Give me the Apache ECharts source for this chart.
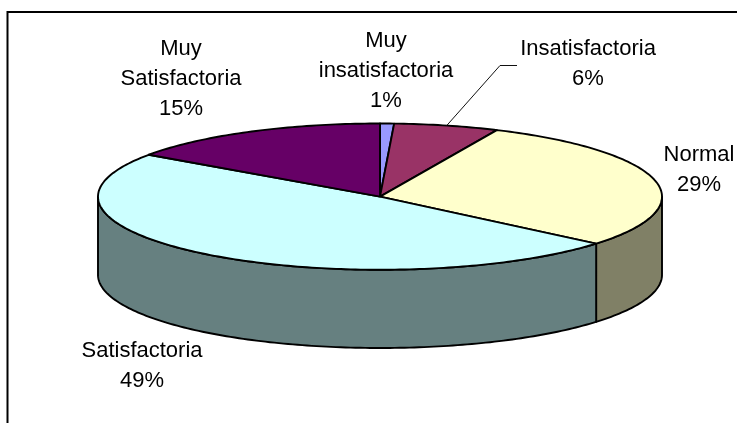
<!DOCTYPE html>
<html>
<head>
<meta charset="utf-8">
<style>html,body{margin:0;padding:0;background:#fff}#c{width:737px;height:423px}</style>
<script src="https://cdn.jsdelivr.net/npm/echarts@6/dist/echarts.min.js"></script>
</head>
<body>
<div id="c"></div>
<script>
// Data
var categories = ['Muy\ninsatisfactoria', 'Insatisfactoria', 'Normal', 'Satisfactoria', 'Muy\nSatisfactoria'];
var values = [0.8, 6.0, 29.3, 48.6, 15.3];

// Appearance
var topColors = ['#9999FF', '#993366', '#FFFFCC', '#CCFFFF', '#660066'];
var sideColors = ['#4D4D80', '#4D1A33', '#808066', '#668080', '#330033'];
var labelSpots = [[386, 71], [588, 64], [699, 170], [142, 366], [181, 79]];
var leaderBend = [[500, 65.5], [517, 65.5]];
var FONT = '"Liberation Sans", Arial, sans-serif';
var DEPTH = 1.07;            // wall height in y-axis units (radius = 1)

var total = values.reduce(function (a, b) { return a + b; }, 0);
var starts = [];
values.reduce(function (acc, v, i) { starts[i] = acc; return acc + v; }, 0);

function rim(deg, drop) { return [Math.sin(deg * Math.PI / 180), Math.cos(deg * Math.PI / 180) - (drop || 0)]; }

function renderSlice(params, api) {
  var i = api.value(0);
  var a0 = starts[i] / total * 360, a1 = (starts[i] + values[i]) / total * 360;
  var children = [];
  var pt = function (d) { return api.coord(d); };
  var edge = { stroke: '#000', lineWidth: 1.9, lineJoin: 'round' };

  // front wall: only the part of the rim between 90 and 270 degrees
  var w0 = Math.max(a0, 90), w1 = Math.min(a1, 270);
  if (w1 > w0) {
    var wall = [], d;
    for (d = w0; d < w1; d += 1) wall.push(pt(rim(d)));
    wall.push(pt(rim(w1)));
    wall.push(pt(rim(w1, DEPTH)));
    for (d = w1; d > w0; d -= 1) wall.push(pt(rim(d, DEPTH)));
    wall.push(pt(rim(w0, DEPTH)));
    children.push({ type: 'polygon', z2: 1, shape: { points: wall },
      style: Object.assign({ fill: sideColors[i] }, edge) });
  }

  // top face
  var face = [pt([0, 0])], t;
  for (t = a0; t < a1; t += 1) face.push(pt(rim(t)));
  face.push(pt(rim(a1)));
  children.push({ type: 'polygon', z2: 2, shape: { points: face },
    style: Object.assign({ fill: topColors[i] }, edge) });

  // label
  children.push({ type: 'text', z2: 5, style: {
    x: labelSpots[i][0], y: labelSpots[i][1],
    text: categories[i] + '\n' + Math.round(values[i]) + '%',
    align: 'center', verticalAlign: 'middle', textAlign: 'center', textVerticalAlign: 'middle',
    font: '22px ' + FONT, lineHeight: 30, fill: '#000'
  } });

  // leader line for the label that sits away from its slice
  if (categories[i] === 'Insatisfactoria') {
    children.push({ type: 'polyline', z2: 3,
      shape: { points: [pt(rim((a0 + a1) / 2))].concat(leaderBend) },
      style: { stroke: '#111', lineWidth: 1, fill: null } });
  }
  return { type: 'group', children: children };
}

var chart = echarts.init(document.getElementById('c'), null, { renderer: 'canvas' });
chart.setOption({
  animation: false,
  backgroundColor: '#fff',
  grid: { left: 98, top: 123.5, width: 564, height: 224.5 },
  xAxis: { type: 'value', min: -1, max: 1, show: false },
  yAxis: { type: 'value', min: -1 - DEPTH, max: 1, show: false },
  graphic: [{
    type: 'polyline', silent: true,
    shape: { points: [[7.5, 423], [7.5, 12], [737, 12]] },
    style: { stroke: '#000', lineWidth: 2, fill: null }
  }],
  series: [{
    type: 'custom',
    coordinateSystem: 'cartesian2d',
    clip: false,
    renderItem: renderSlice,
    encode: { x: 0 },
    data: values.map(function (v, i) { return [i, v]; })
  }]
});
</script>
</body>
</html>
